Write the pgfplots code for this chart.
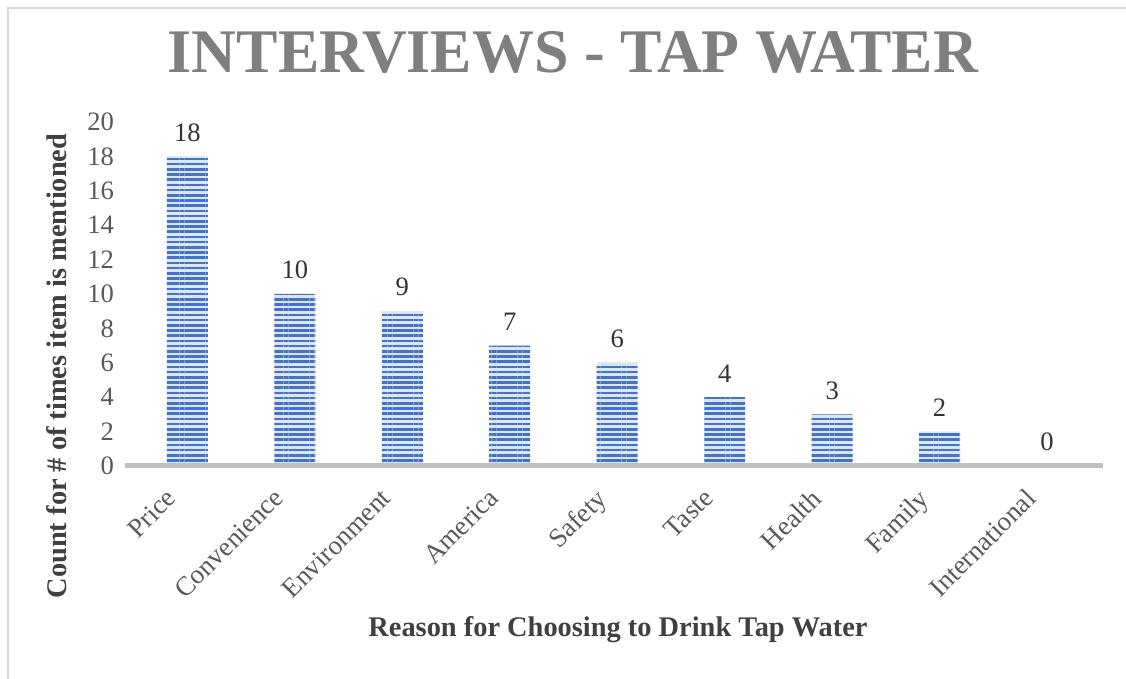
\documentclass[border=0pt]{standalone}
\usepackage{fontspec}
\setmainfont{Liberation Serif}
\usepackage{pgfplots}
\pgfplotsset{compat=1.18}
\usetikzlibrary{patterns.meta}

\definecolor{barblue}{HTML}{4472C4}
\definecolor{barlight}{HTML}{DCE5F5}
\definecolor{titlegray}{HTML}{7F7F7F}
\definecolor{tickgray}{HTML}{595959}
\definecolor{labelgray}{HTML}{404040}
\definecolor{basegray}{HTML}{BFBFBF}
\definecolor{framegray}{HTML}{D9D9D9}

\begin{document}
\begin{tikzpicture}
\begin{axis}[
    at={(0,0)}, anchor=south west,
    scale only axis,
    width=489pt, height=172pt,
    ybar, bar width=20.5pt,
    xmin=-0.58, xmax=8.52,
    ymin=0, ymax=20,
    ytick={0,2,...,20},
    xtick=data,
    xticklabels={Price, Convenience, Environment, America, Safety, Taste, Health, Family, International},
    xticklabel style={rotate=45, anchor=north east, font=\fontsize{13.5}{15}\selectfont, text=tickgray, xshift=-12pt, yshift=4pt},
    yticklabel style={font=\fontsize{13.3}{15}\selectfont, text=tickgray, xshift=-2pt},
    /pgf/number format/assume math mode=true,
    major tick length=0pt,
    axis line style={draw=none},
    enlarge x limits=false,
    nodes near coords,
    nodes near coords style={font=\fontsize{13.3}{15}\selectfont, text=black!80, yshift=4pt},
    clip=false,
]
\addplot[draw=none, fill=barlight, postaction={pattern={Lines[angle=0, distance=2.6pt, line width=1.3pt]}, pattern color=barblue}]
    coordinates {(0,18) (1,10) (2,9) (3,7) (4,6) (5,4) (6,3) (7,2) (8,0)};
\draw[basegray, line width=2.5pt] (rel axis cs:0,0) -- (rel axis cs:1,0);
\end{axis}
\node[font=\fontsize{31}{36}\selectfont\bfseries, text=titlegray] at (224pt,207pt) {INTERVIEWS - TAP WATER};
\node[font=\fontsize{14.2}{17}\selectfont\bfseries, text=labelgray, rotate=90] at (-34pt,50pt) {Count for \# of times item is mentioned};
\node[font=\fontsize{14.2}{17}\selectfont\bfseries, text=labelgray] at (246.5pt,-82pt) {Reason for Choosing to Drink Tap Water};
\pgfresetboundingbox
\path[use as bounding box] (-62.5pt,-106.5pt) rectangle (500.5pt,233pt);
\draw[framegray, line width=1pt] (-58.5pt,-106.5pt) -- (-58.5pt,229pt) -- (500.5pt,229pt);
\end{tikzpicture}
\end{document}
